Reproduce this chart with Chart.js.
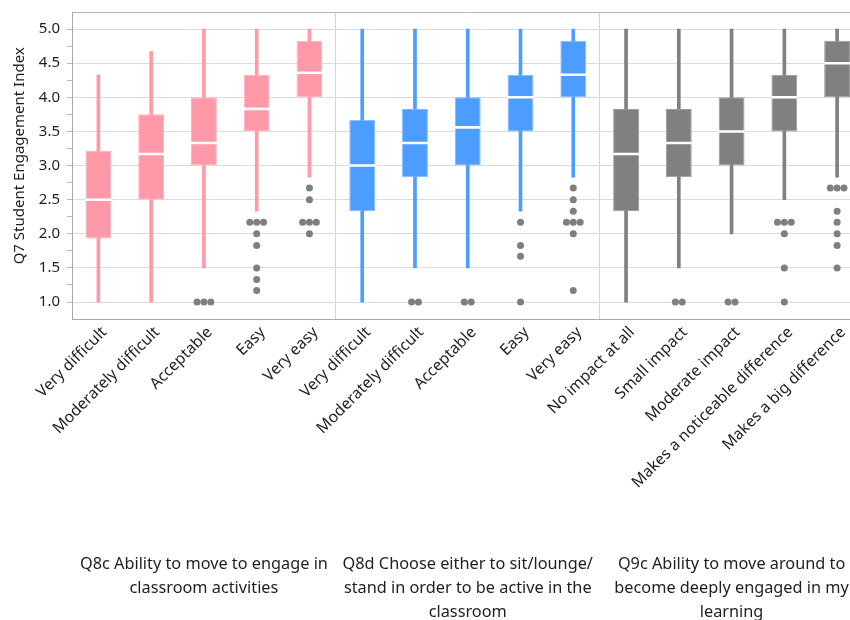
<!DOCTYPE html>
<html>
<head>
<meta charset="utf-8">
<script src="https://cdn.jsdelivr.net/npm/chart.js@4.4.1/dist/chart.umd.min.js"></script>
<style>
  html, body { margin: 0; padding: 0; background: #fff; overflow: hidden; width: 850px; height: 620px; }
  #wrap { position: absolute; left: 0; top: -4px; width: 879px; height: 628px; }
</style>
</head>
<body>
<div id="wrap"><canvas id="c" width="879" height="628"></canvas></div>
<script>
// Response categories, five per survey question
const categories = [
  'Very difficult', 'Moderately difficult', 'Acceptable', 'Easy', 'Very easy',
  'Very difficult', 'Moderately difficult', 'Acceptable', 'Easy', 'Very easy',
  'No impact at all', 'Small impact', 'Moderate impact', 'Makes a noticeable difference', 'Makes a big difference'
];

// Survey questions (one per block of five categories)
const questions = [
  ['Q8c Ability to move to engage in', 'classroom activities'],
  ['Q8d Choose either to sit/lounge/', 'stand in order to be active in the', 'classroom'],
  ['Q9c Ability to move around to', 'become deeply engaged in my', 'learning']
];

// Box plot statistics of the Q7 Student Engagement Index
const whiskerLow  = [1.00, 1.00, 1.50, 2.33, 2.83,  1.00, 1.50, 1.50, 2.33, 2.83,  1.00, 1.50, 2.00, 2.50, 2.83];
const quartile1   = [1.93, 2.50, 3.00, 3.50, 4.00,  2.33, 2.83, 3.00, 3.50, 4.00,  2.33, 2.83, 3.00, 3.50, 4.00];
const medians     = [2.50, 3.17, 3.33, 3.83, 4.36,  3.00, 3.33, 3.56, 4.00, 4.33,  3.17, 3.33, 3.50, 4.00, 4.50];
const quartile3   = [3.22, 3.75, 4.00, 4.33, 4.83,  3.67, 3.83, 4.00, 4.33, 4.83,  3.83, 3.83, 4.00, 4.33, 4.83];
const whiskerHigh = [4.33, 4.67, 5.00, 5.00, 5.00,  5.00, 5.00, 5.00, 5.00, 5.00,  5.00, 5.00, 5.00, 5.00, 5.00];

// Outlying responses per category
const outliers = [
  [], [], [1, 1, 1], [2.17, 2.17, 2.17, 2.0, 1.83, 1.5, 1.33, 1.17], [2.67, 2.5, 2.17, 2.17, 2.17, 2.0],
  [], [1, 1], [1, 1], [2.17, 1.83, 1.67, 1.0], [2.67, 2.5, 2.33, 2.17, 2.17, 2.17, 2.0, 1.17],
  [], [1, 1], [1, 1], [2.17, 2.17, 2.17, 2.0, 1.5, 1.0], [2.67, 2.67, 2.67, 2.33, 2.17, 2.0, 1.83, 1.5]
];

// Y axis: labelled values, and the range shown
const yTickLabels = ['1.0', '1.5', '2.0', '2.5', '3.0', '3.5', '4.0', '4.5', '5.0'];
const yMin = 0.75, yMax = 5.25, yMinorStep = 0.25;

const fills   = ['#ff99a8', '#4d9cff', '#808080'];
const borders = ['#ffb3be', '#80b9ff', '#9c9c9c'];
const groupOf = i => Math.floor(i / 5);
const boxFill = categories.map((_, i) => fills[groupOf(i)]);
const boxLine = categories.map((_, i) => borders[groupOf(i)]);

// Tied outliers are spread side by side around the category centre
const outlierPoints = [];
outliers.forEach((vals, i) => {
  const counts = {};
  vals.forEach(v => { counts[v] = (counts[v] || 0) + 1; });
  const seen = {};
  vals.forEach(v => {
    const n = counts[v];
    const k = seen[v] = (seen[v] === undefined ? 0 : seen[v] + 1);
    outlierPoints.push({ x: i + (k - (n - 1) / 2) * 0.13, y: v });
  });
});

const FONT = "'Noto Sans', 'Open Sans', sans-serif";
const isHalf = v => Math.abs(v * 2 - Math.round(v * 2)) < 1e-6;

new Chart(document.getElementById('c'), {
  type: 'bar',
  data: {
    labels: categories,
    datasets: [
      {
        type: 'scatter', label: 'outliers', xAxisID: 'xs', yAxisID: 'y', order: 0,
        data: outlierPoints,
        pointRadius: 3.5, pointBackgroundColor: '#7f7f7f', pointBorderWidth: 0
      },
      {
        type: 'scatter', label: 'median', xAxisID: 'xs', yAxisID: 'y', order: 1,
        data: medians.map((m, i) => ({ x: i, y: m })),
        pointStyle: 'line', pointRadius: 12.9, pointBorderColor: '#ffffff', pointBorderWidth: 2.6
      },
      {
        label: 'box', xAxisID: 'x', yAxisID: 'y', order: 2, grouped: false,
        data: categories.map((_, i) => [quartile1[i], quartile3[i]]),
        backgroundColor: boxFill, borderColor: boxLine, borderWidth: 1, borderSkipped: false,
        categoryPercentage: 1, barPercentage: 0.49
      },
      {
        label: 'whisker', xAxisID: 'x', yAxisID: 'y', order: 3, grouped: false,
        data: categories.map((_, i) => [whiskerLow[i], whiskerHigh[i]]),
        backgroundColor: boxFill, borderWidth: 0, barThickness: 3
      }
    ]
  },
  options: {
    responsive: false,
    animation: false,
    layout: { padding: { top: 11, left: 0, right: 0, bottom: 0 } },
    plugins: { legend: { display: false }, tooltip: { enabled: false } },
    scales: {
      x: {
        type: 'category', position: 'bottom', offset: true, weight: 0,
        grid: {
          offset: true, drawTicks: false,
          color: c => (c.index === 5 || c.index === 10) ? '#d6d6d6' : 'rgba(0,0,0,0)'
        },
        border: { color: '#a9a9a9' },
        ticks: {
          autoSkip: false, maxRotation: 45, minRotation: 45, padding: 4, labelOffset: 6,
          color: '#1e1e1e', font: { family: FONT, size: 15.7 }
        },
        afterFit: s => { s.height = 233; }
      },
      xg: {
        type: 'category', position: 'bottom', offset: true, weight: 10,
        labels: questions,
        grid: { display: false, drawTicks: false },
        border: { display: false },
        ticks: {
          autoSkip: false, maxRotation: 0, minRotation: 0, padding: 0,
          color: '#1e1e1e', font: { family: FONT, size: 16.3, lineHeight: 1.47 }
        }
      },
      xs: {
        type: 'linear', display: false, offset: false, min: -0.5, max: 14.5,
        grid: { offset: false }
      },
      y: {
        type: 'linear', min: yMin, max: yMax, beginAtZero: false,
        border: { color: '#a9a9a9' },
        afterBuildTicks: s => {
          const t = [];
          for (let v = yMin; v <= yMax + 1e-9; v += yMinorStep) t.push({ value: Math.round(v * 100) / 100 });
          s.ticks = t;
        },
        grid: {
          tickLength: 5,
          color: c => {
            const v = c.tick.value;
            if (Math.abs(v - yMax) < 1e-6) return '#b8b8b8';
            return (isHalf(v) && v > yMin + 0.05) ? '#dcdcdc' : 'rgba(0,0,0,0)';
          },
          tickColor: c => {
            const v = c.tick.value;
            return (v > yMin + 0.05 && v < yMax - 0.05) ? '#b8b8b8' : 'rgba(0,0,0,0)';
          }
        },
        ticks: {
          autoSkip: false, padding: 7, color: '#1e1e1e', font: { family: FONT, size: 15 },
          callback: v => {
            if (!isHalf(v)) return '';
            const idx = Math.round((v - 1) * 2);
            return yTickLabels[idx] !== undefined ? yTickLabels[idx] : '';
          }
        },
        title: {
          display: true, text: '     Q7 Student Engagement Index', color: '#1e1e1e',
          font: { family: FONT, size: 15 }, padding: { top: 11, bottom: 0 }
        },
        afterFit: s => { s.width = 72; }
      }
    }
  }
});
</script>
</body>
</html>
